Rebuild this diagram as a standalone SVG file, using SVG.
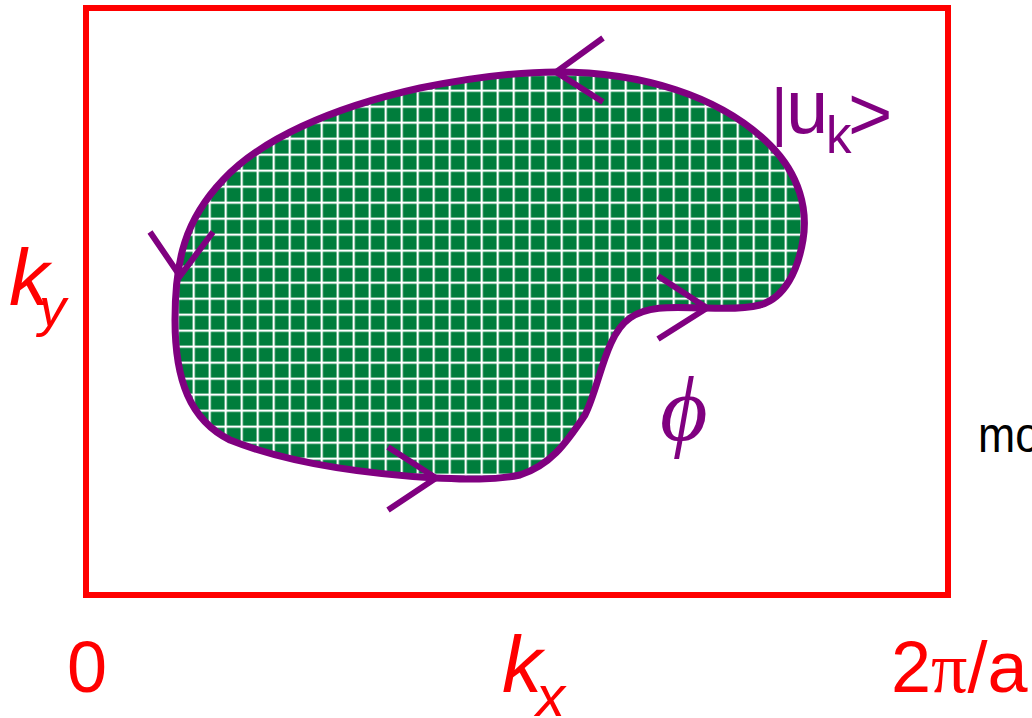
<svg xmlns="http://www.w3.org/2000/svg" width="1032" height="718" viewBox="0 0 1032 718">
  <style>
    .red { fill: #FF0000; font-family: "Liberation Sans", Arial, sans-serif; }
    .pur { fill: #800080; font-family: "Liberation Sans", Arial, sans-serif; }
    .chev { fill: none; stroke: #800080; stroke-width: 6; stroke-linejoin: miter; stroke-linecap: butt; }
  </style>
  <defs>
    <pattern id="grid" patternUnits="userSpaceOnUse" x="0.6" y="9.6" width="16" height="16">
      <rect width="16" height="16" fill="#007D3C"/>
      <rect x="0" y="0" width="2.2" height="16" fill="#FFFFFF"/>
      <rect x="0" y="0" width="16" height="2.2" fill="#FFFFFF"/>
    </pattern>
  </defs>
  <rect width="1032" height="718" fill="#FFFFFF"/>

  <g id="brillouin-zone">
    <rect x="86" y="8" width="862" height="587" fill="none" stroke="#FF0000" stroke-width="6"/>
  </g>

  <g id="region">
    <path d="M557 72 C640 72 720 95 770 145 C800 175 808 210 803 240 C798 270 785 298 760 305 C740 310 720 308 705 308 C680 308 650 304 630 318 C605 335 600 385 585 415 C565 445 550 465 520 475 C490 481 460 479 435 478 C370 474 290 464 230 440 C190 420 175 380 175 320 C175 260 185 220 223 180 C260 140 330 108 420 88 C470 78 520 72 557 72 Z" fill="url(#grid)" stroke="#800080" stroke-width="7"/>
  </g>

  <g id="connectors">
    <path class="chev" d="M603 38 L556 72 L603 102"/>
    <path class="chev" d="M150 232 L180 276 L213 232"/>
    <path class="chev" d="M658 276 L707 308 L658 339"/>
    <path class="chev" d="M388 447 L436 478 L388 510"/>
  </g>

  <g id="label-uk">
    <text class="pur" x="771" y="134" font-size="64">|</text>
    <text class="pur" x="786" y="133" font-size="76">u</text>
    <text class="pur" x="826" y="153" font-size="51">k</text>
    <text class="pur" x="848" y="140" font-size="76">&gt;</text>
  </g>

  <g id="label-phi">
    <text x="660" y="440" font-size="92" font-style="italic" fill="#800080" font-family="'Liberation Serif', 'DejaVu Serif', serif">ϕ</text>
  </g>

  <g id="label-ky">
    <text class="red" x="9" y="305" font-size="80" font-style="italic">k</text>
    <text class="red" x="39" y="326" font-size="54" font-style="italic">y</text>
  </g>

  <g id="label-kx">
    <text class="red" x="502" y="692" font-size="80" font-style="italic">k</text>
    <text class="red" x="536" y="716" font-size="58" font-style="italic">x</text>
  </g>

  <g id="label-0">
    <text class="red" x="67" y="692" font-size="72">0</text>
  </g>

  <g id="label-2pi">
    <text class="red" x="891" y="692" font-size="72">2<tspan font-family="'Liberation Serif', serif">π</tspan>/a</text>
  </g>

  <g id="label-mo">
    <text x="978" y="452" font-size="50" fill="#000000" font-family="'Liberation Sans', Arial, sans-serif" textLength="62" lengthAdjust="spacingAndGlyphs">mo</text>
  </g>
</svg>
